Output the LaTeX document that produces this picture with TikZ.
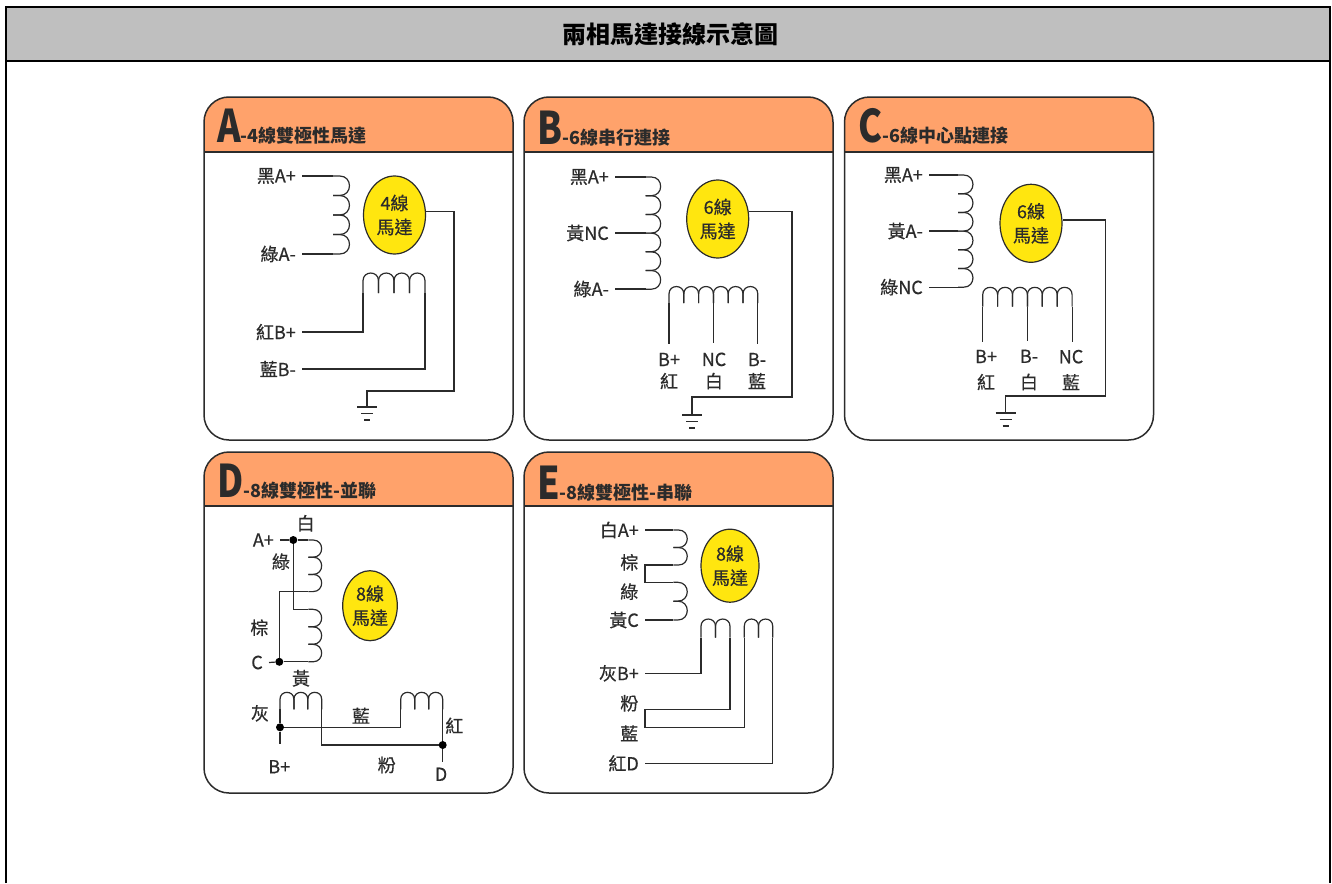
\documentclass[tikz,border=0pt]{standalone}
\usepackage{fontspec}
\setmainfont{Noto Sans CJK TC}
\newfontfamily\lblfont[FakeBold=0.5]{Noto Sans CJK TC}
\usetikzlibrary{shapes.geometric,positioning}
\definecolor{headgray}{HTML}{BFBFBF}
\definecolor{headorange}{HTML}{FFA26B}
\definecolor{motoryellow}{HTML}{FFE60F}
\definecolor{inkgray}{HTML}{2B2B2B}
\tikzset{
  frameline/.style={line width=2pt,black},
  panelline/.style={line width=1.5pt,inkgray},
  wire/.style={line width=1.2pt,inkgray},
  lbl/.style={font=\lblfont\fontsize{18}{22}\selectfont,text=inkgray,inner ysep=2pt,inner xsep=6pt},
  lbltwo/.style={lbl,align=center,inner ysep=9pt},
  headlbl/.style={font=\fontsize{18}{18}\selectfont\bfseries,text=inkgray,inner sep=0pt,anchor=base west},
  motor/.style={ellipse,draw=inkgray,line width=1.2pt,fill=motoryellow,inner sep=0pt,align=center,
    font=\lblfont\fontsize{18}{24}\selectfont,text=inkgray},
  dot/.style={circle,fill=black,inner sep=0pt,minimum size=8pt},
  title/.style={font=\fontsize{24}{24}\selectfont\bfseries,text=black}
}
\newcommand{\bigltr}[1]{\scalebox{.8}[1]{\fontsize{45}{45}\selectfont #1}}
\newcommand{\panelbox}[4]{
  \begin{scope}
    \clip[rounded corners=25pt] (#1,#2) rectangle ({#1+309},#3);
    \fill[headorange] (#1,#2) rectangle ({#1+309},#4);
  \end{scope}
  \draw[panelline] (#1,#4) -- ({#1+309},#4);
  \draw[panelline,rounded corners=25pt] (#1,#2) rectangle ({#1+309},#3);
}
\newcommand{\coilv}[5]{\foreach \k in {1,...,#4}
  {\draw[wire] (#1,{#2-(\k-1)*#3}) -- ++({#5-#3/2},0) to[out=0,in=0,looseness=1.7] ++(0,{-#3}) -- ++({-(#5-#3/2)},0);}}
\newcommand{\coilh}[5]{\foreach \k in {1,...,#4}
  {\draw[wire] ({#1+(\k-1)*#3},#2) -- ++(0,{#5-#3/2}) to[out=90,in=90,looseness=1.7] ++(#3,0) -- ++(0,{-(#5-#3/2)});}}
\newcommand{\gnd}[1]{
  \draw[wire] ([xshift=-10pt]#1) -- ([xshift=10pt]#1);
  \draw[wire] ([xshift=-6pt,yshift=-6.5pt]#1) -- ([xshift=6pt,yshift=-6.5pt]#1);
  \draw[wire] ([xshift=-3pt,yshift=-13pt]#1) -- ([xshift=3pt,yshift=-13pt]#1);
}
\begin{document}
\begin{tikzpicture}[x=1pt,y=1pt]
  \useasboundingbox (0,0) rectangle (1332,-883);
  \fill[headgray] (6,-7) rectangle (1330,-61);
  \draw[frameline] (6,-883) -- (6,-7) -- (1330,-7) -- (1330,-883);
  \draw[frameline] (6,-61) -- (1330,-61);
  \node[title] (maintitle) at (670,-34) {兩相馬達接線示意圖};

  \panelbox{204}{-97}{-440}{-152}
  \panelbox{524}{-97}{-440}{-152}
  \panelbox{844.5}{-97}{-440}{-152}
  \panelbox{204}{-452}{-793}{-506}
  \panelbox{524}{-452}{-793}{-506}
  \node[headlbl] (heada) at (217,-142) {\bigltr{A}-4線雙極性馬達};
  \node[headlbl] (headb) at (537,-144) {\bigltr{B}-6線串行連接};
  \node[headlbl] (headc) at (858,-142) {\bigltr{C}-6線中心點連接};
  \node[headlbl] (headd) at (217,-497) {\bigltr{D}-8線雙極性-並聯};
  \node[headlbl] (heade) at (537,-499) {\bigltr{E}-8線雙極性-串聯};

  \coilv{333}{-176}{19.5}{4}{16.5}
  \coilh{363}{-293}{15.5}{4}{20}
  \coordinate (a1) at (333,-176);
  \coordinate (a2) at (333,-254);
  \coordinate (a3) at (363,-293);
  \coordinate (a4) at (425,-293);
  \coordinate (ak) at (454,-391);
  \coordinate (agnd) at (367,-407);
  \node[lbl,anchor=east] (aAp) at (302,-176) {黑A+};
  \node[lbl,anchor=east] (aAm) at (302,-254) {綠A-};
  \node[lbl,anchor=east] (aBp) at (302,-332) {紅B+};
  \node[lbl,anchor=east] (aBm) at (302,-369) {藍B-};
  \node[motor,minimum width=62pt,minimum height=78pt] (mota) at (394.5,-215) {4線\\馬達};
  \draw[wire] (aAp.east) -- (a1);
  \draw[wire] (aAm.east) -- (a2);
  \draw[wire] (aBp.east) -| (a3);
  \draw[wire] (aBm.east) -| (a4);
  \draw[wire] (mota.6) -| (ak) -| (agnd);
  \gnd{agnd}

  \coilv{645.7}{-177}{18.7}{6}{15}
  \coilh{669}{-303}{14.8}{6}{16.5}
  \coordinate (b1) at (645.7,-177);
  \coordinate (b2) at (645.7,-233);
  \coordinate (b3) at (645.7,-289);
  \coordinate (b4) at (669,-303);
  \coordinate (b5) at (713.4,-303);
  \coordinate (b6) at (757.8,-303);
  \coordinate (bk) at (792,-397);
  \coordinate (bgnd) at (692,-415);
  \node[lbl,anchor=east] (bAp) at (615,-177) {黑A+};
  \node[lbl,anchor=east] (bNa) at (615,-233) {黃NC};
  \node[lbl,anchor=east] (bAm) at (615,-289) {綠A-};
  \node[lbltwo] (bBp) at (669,-371) {B+\\紅};
  \node[lbltwo] (bNb) at (714,-371) {NC\\白};
  \node[lbltwo] (bBm) at (757,-371) {B-\\藍};
  \node[motor,minimum width=62pt,minimum height=78pt] (motb) at (717.7,-219) {6線\\馬達};
  \draw[wire] (bAp.east) -- (b1);
  \draw[wire] (bNa.east) -- (b2);
  \draw[wire] (bAm.east) -- (b3);
  \draw[wire] (b4) -- (b4 |- bBp.north);
  \draw[wire] (b5) -- (b5 |- bNb.north);
  \draw[wire] (b6) -- (b6 |- bBm.north);
  \draw[wire] (motb.13) -| (bk) -| (bgnd);
  \gnd{bgnd}

  \coilv{958}{-175}{18.7}{6}{15}
  \coilh{982.7}{-306.7}{14.9}{6}{19.4}
  \coordinate (c1) at (958,-175);
  \coordinate (c2) at (958,-231);
  \coordinate (c3) at (958,-287.2);
  \coordinate (c4) at (982.7,-306.7);
  \coordinate (c5) at (1027.4,-306.7);
  \coordinate (c6) at (1072.1,-306.7);
  \coordinate (ck) at (1105.7,-396);
  \coordinate (cgnd) at (1005.7,-413);
  \node[lbl,anchor=east] (cAp) at (929,-175) {黑A+};
  \node[lbl,anchor=east] (cAm) at (929,-231) {黃A-};
  \node[lbl,anchor=east] (cNa) at (929,-287.2) {綠NC};
  \node[lbltwo] (cBp) at (986,-370) {B+\\[4pt]紅};
  \node[lbltwo] (cBm) at (1029,-370) {B-\\[4pt]白};
  \node[lbltwo] (cNb) at (1071,-370) {NC\\[4pt]藍};
  \node[motor,minimum width=62pt,minimum height=78pt] (motc) at (1031,-223.3) {6線\\馬達};
  \draw[wire] (cAp.east) -- (c1);
  \draw[wire] (cAm.east) -- (c2);
  \draw[wire] (cNa.east) -- (c3);
  \draw[wire] (c4) -- ([yshift=-1pt]c4 |- cBp.north);
  \draw[wire] (c5) -- ([yshift=-1pt]c5 |- cBm.north);
  \draw[wire] (c6) -- ([yshift=-1pt]c6 |- cNb.north);
  \draw[wire] (motc.6) -| (ck) -| (cgnd);
  \gnd{cgnd}

  \coilv{308.3}{-540}{17.2}{3}{13.4}
  \coilv{308.3}{-609.3}{17.5}{3}{13.4}
  \coilh{280}{-709.3}{13.9}{3}{17}
  \coilh{400.7}{-709.3}{14}{3}{17}
  \coordinate (dc1) at (308.3,-540);
  \coordinate (dc2) at (308.3,-591.6);
  \coordinate (dc3) at (308.3,-609.3);
  \coordinate (dc4) at (308.3,-661.8);
  \coordinate (dl1) at (280,-709.3);
  \coordinate (dl2) at (321.7,-709.3);
  \coordinate (dr1) at (400.7,-709.3);
  \coordinate (dr2) at (442.7,-709.3);
  \coordinate (dBe) at (280,-744);
  \coordinate (dDe) at (442.7,-761.7);
  \node[dot] (d1) at (293.3,-540) {};
  \node[dot] (d2) at (279.3,-661.8) {};
  \node[dot] (d3) at (280,-727.3) {};
  \node[dot] (d4) at (442.7,-745) {};
  \node[lbl,anchor=east] (dAp) at (280,-540) {A+};
  \node[lbl,anchor=east] (dC) at (269,-662.5) {C};
  \node[lbl] (dW) at (305.7,-523.3) {白};
  \node[lbl] (dGn) at (281,-561.7) {綠};
  \node[lbl] (dBr) at (259.3,-627.7) {棕};
  \node[lbl] (dY) at (301,-678.3) {黃};
  \node[lbl] (dGy) at (260,-713.3) {灰};
  \node[lbl] (dBl) at (361,-715.7) {藍};
  \node[lbl] (dR) at (454.3,-725.7) {紅};
  \node[lbl] (dPk) at (386.7,-765) {粉};
  \node[lbl] (dBp) at (279.3,-766.7) {B+};
  \node[lbl] (dD) at (441,-774.3) {D};
  \node[motor,minimum width=54.6pt,minimum height=70pt] (motd) at (370,-605.7) {8線\\馬達};
  \draw[wire] (dAp.east) -- (d1);
  \draw[wire] (d1) -- (dc1);
  \draw[wire] (dc2) -| (d2);
  \draw[wire] (d1) |- (dc3);
  \draw[wire] (dc4) -- (d2);
  \draw[wire] (dC.east) -- (d2);
  \draw[wire] (dl1) -- (d3);
  \draw[wire] (d3) -- (dBe);
  \draw[wire] (dl2) |- (d4);
  \draw[wire] (d3) -| (dr1);
  \draw[wire] (dr2) -- (d4);
  \draw[wire] (d4) -- (dDe);

  \coilv{673.3}{-530}{17.5}{2}{14}
  \coilv{673.3}{-582.3}{18.85}{2}{14}
  \coilh{701}{-637.7}{14.5}{2}{18.7}
  \coilh{744.3}{-637.7}{14.2}{2}{18.7}
  \coordinate (e1) at (673.3,-530);
  \coordinate (e2) at (673.3,-565);
  \coordinate (e3) at (673.3,-582.3);
  \coordinate (e4) at (673.3,-620);
  \coordinate (e5) at (701,-637.7);
  \coordinate (e6) at (730,-637.7);
  \coordinate (e7) at (744.3,-637.7);
  \coordinate (e8) at (772.7,-637.7);
  \coordinate (ej1) at (645,-565);
  \coordinate (ej2) at (645,-582.3);
  \coordinate (ej3) at (645,-709.3);
  \coordinate (ej4) at (645,-727.3);
  \node[lbl,anchor=east] (eAp) at (645,-530) {白A+};
  \node[lbl] (eBr) at (629.3,-562.3) {棕};
  \node[lbl] (eGn) at (629.3,-591.7) {綠};
  \node[lbl,anchor=east] (eC) at (645,-620) {黃C};
  \node[lbl,anchor=east] (eBp) at (645,-673.3) {灰B+};
  \node[lbl] (ePk) at (629.3,-703.3) {粉};
  \node[lbl] (eBl) at (629.3,-733.3) {藍};
  \node[lbl,anchor=east] (eD) at (645,-763.3) {紅D};
  \node[motor,minimum width=58pt,minimum height=73pt] (mote) at (730,-565.7) {8線\\馬達};
  \draw[wire] (eAp.east) -- (e1);
  \draw[wire] (e2) -- (ej1) -- (ej2) -- (e3);
  \draw[wire] (eC.east) -- (e4);
  \draw[wire] (eBp.east) -| (e5);
  \draw[wire] (e6) |- (ej3) -- (ej4) -| (e7);
  \draw[wire] (eD.east) -| (e8);
\end{tikzpicture}
\end{document}
